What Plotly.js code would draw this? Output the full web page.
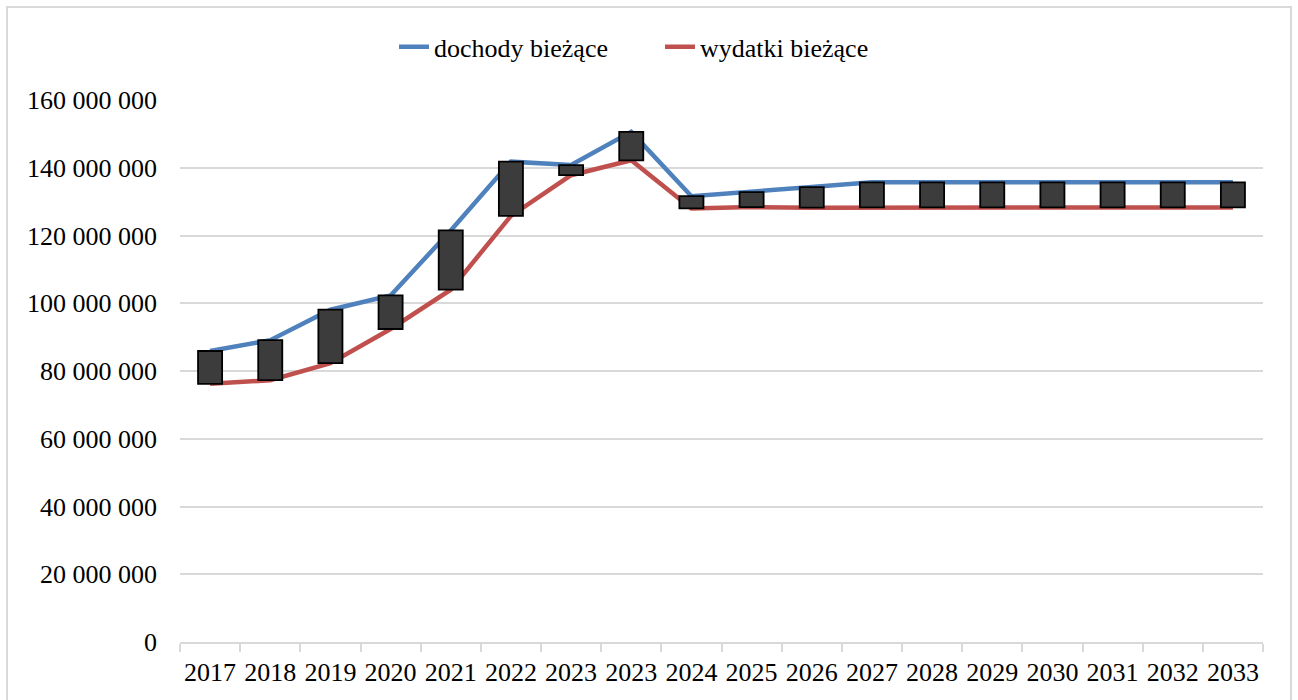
<!DOCTYPE html>
<html>
<head>
<meta charset="utf-8">
<script src="https://cdn.plot.ly/plotly-3.0.1.min.js"></script>
<style>
  html, body { margin:0; padding:0; background:#fff; overflow:hidden; }
  #chart { position:absolute; left:0; top:0; width:1298px; height:700px; }
  #frame { position:absolute; left:6px; top:6px; width:1286px; height:760px; border:2px solid #d9d9d9; box-sizing:border-box; pointer-events:none; }
</style>
</head>
<body>
<div id="chart"></div>
<div id="frame"></div>
<script>
const categories = ['2017','2018','2019','2020','2021','2022','2023','2023','2024','2025','2026','2027','2028','2029','2030','2031','2032','2033'];
const dochody = [85900000, 89100000, 98100000, 102300000, 121500000, 141800000, 140800000, 150600000, 131600000, 132800000, 134300000, 135700000, 135700000, 135700000, 135700000, 135700000, 135700000, 135700000];
const wydatki = [76200000, 77300000, 82300000, 92400000, 104000000, 125800000, 137800000, 142200000, 128000000, 128400000, 128200000, 128300000, 128300000, 128300000, 128300000, 128300000, 128300000, 128300000];
const seriesNames = ['dochody bieżące', 'wydatki bieżące'];

const xpos = categories.map((c, i) => i);
const boundaries = categories.concat(['']).map((c, i) => i - 0.5);
const FONT = 'Liberation Serif';

const traces = [
  { type: 'scatter', mode: 'lines', name: seriesNames[0], x: xpos, y: dochody, line: { color: '#4f81bd', width: 4.5 }, hoverinfo: 'skip' },
  { type: 'scatter', mode: 'lines', name: seriesNames[1], x: xpos, y: wydatki, line: { color: '#c0504d', width: 4.5 }, hoverinfo: 'skip' },
  { type: 'bar', showlegend: false, x: xpos, base: wydatki, y: dochody.map((v, i) => v - wydatki[i]), width: 0.4, yaxis: 'y2',
    marker: { color: '#3c3c3c', line: { color: '#000000', width: 1.8 } }, hoverinfo: 'skip' }
];

const layout = {
  width: 1298, height: 700,
  margin: { l: 180, r: 35, t: 100, b: 58 },
  paper_bgcolor: '#ffffff', plot_bgcolor: '#ffffff',
  font: { family: FONT, size: 26, color: '#000000' },
  separators: ', ',
  showlegend: true,
  legend: {
    orientation: 'h', x: 0.1976, xanchor: 'left', y: 1.098, yanchor: 'middle',
    font: { family: FONT, size: 26, color: '#000000' },
    bgcolor: 'rgba(0,0,0,0)', itemwidth: 30,
    entrywidth: 221, entrywidthmode: 'pixels'
  },
  xaxis: {
    range: [-0.5, categories.length - 0.5],
    tickmode: 'array', tickvals: xpos, ticktext: categories,
    ticks: '', showgrid: false, zeroline: false,
    showline: true, linecolor: '#d9d9d9', linewidth: 2,
    ticklabelstandoff: 6,
    minor: { tickmode: 'array', tickvals: boundaries, ticks: 'outside', ticklen: 8, tickcolor: '#d9d9d9', tickwidth: 2, showgrid: false },
    tickfont: { family: FONT, size: 26, color: '#000000' },
    fixedrange: true
  },
  yaxis: {
    range: [0, 160000000], dtick: 20000000, tick0: 0,
    tickformat: ',d',
    showgrid: true, gridcolor: '#d9d9d9', gridwidth: 2,
    zeroline: false, showline: false, ticks: '',
    ticklabelstandoff: 22,
    tickfont: { family: FONT, size: 26, color: '#000000' },
    fixedrange: true
  },
  yaxis2: { range: [0, 160000000], overlaying: 'y', side: 'left', showgrid: false, zeroline: false, showticklabels: false, ticks: '', showline: false, fixedrange: true },
  bargap: 0
};

Plotly.newPlot('chart', traces, layout, { displayModeBar: false, staticPlot: true });
</script>
</body>
</html>
